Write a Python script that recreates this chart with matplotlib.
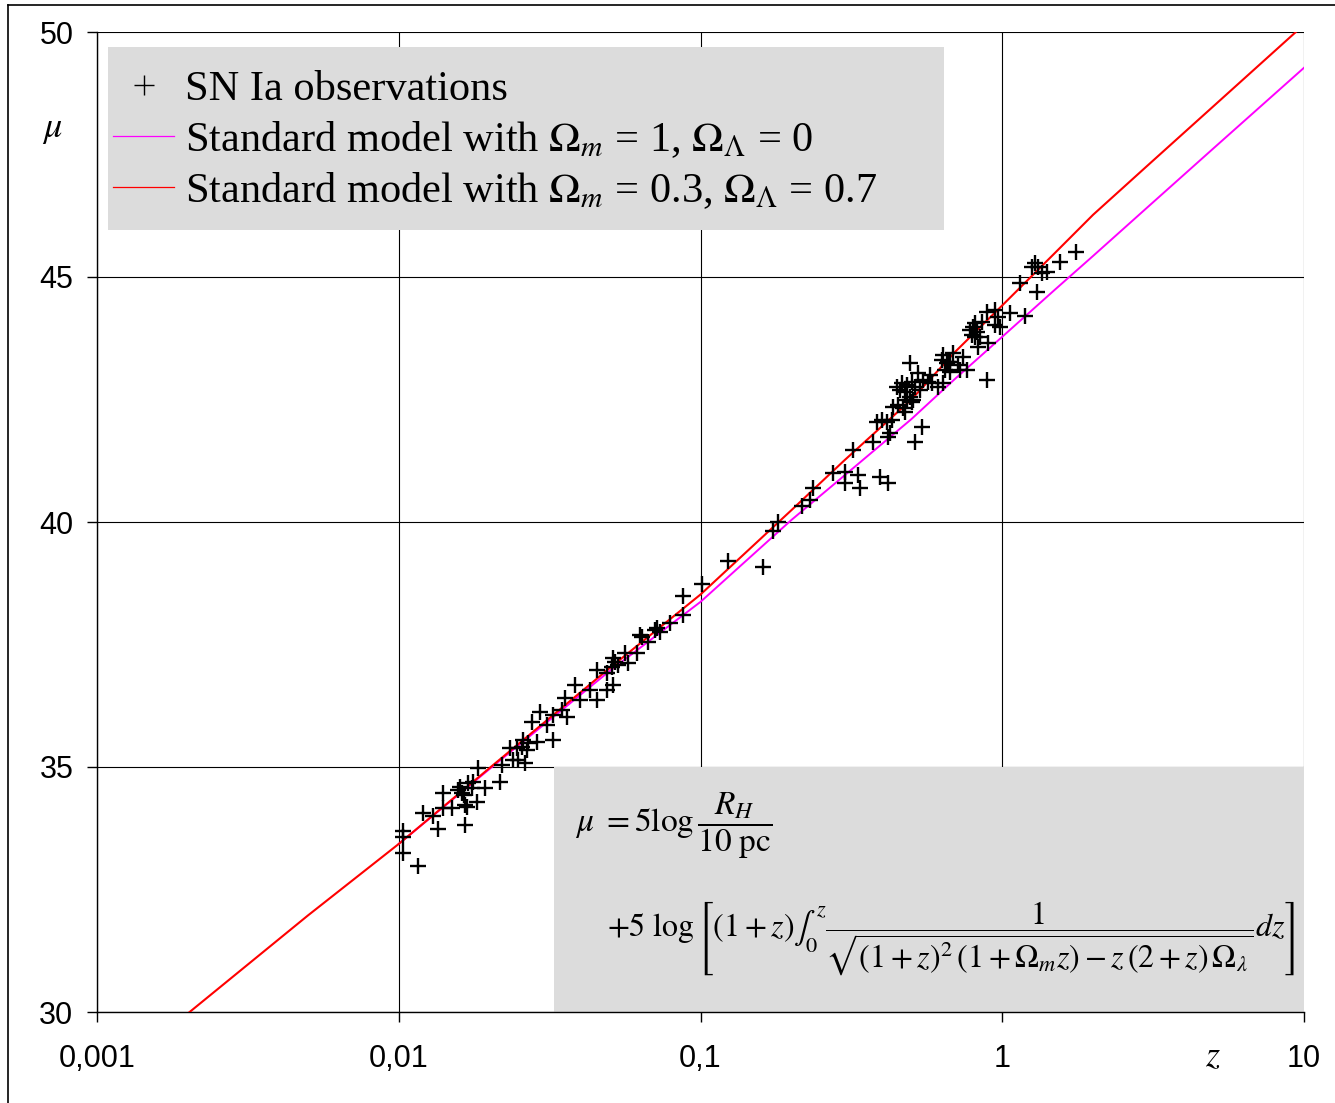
import matplotlib
matplotlib.use("Agg")
import matplotlib.pyplot as plt
from matplotlib.lines import Line2D
from matplotlib.patches import Rectangle

# SN Ia observations (redshift, distance modulus)
z_obs = [0.0103, 0.0103, 0.0103, 0.0116, 0.0120, 0.0130, 0.0135, 0.0140, 0.0140, 0.0150,
         0.0157, 0.0162, 0.0160, 0.0165, 0.0170, 0.0176, 0.0175, 0.0168, 0.0166, 0.0182,
         0.0166, 0.0193, 0.0183, 0.0217, 0.0220, 0.0234, 0.0239, 0.0249, 0.0262, 0.0247,
         0.0256, 0.0266, 0.0268, 0.0287, 0.0259, 0.0276, 0.0294, 0.0310, 0.0325, 0.0325,
         0.0348, 0.0361, 0.0356, 0.0384, 0.0399, 0.0430, 0.0454, 0.0454, 0.0490, 0.0513,
         0.0490, 0.0509, 0.0521, 0.0513, 0.0533, 0.0562, 0.0575, 0.0616, 0.0630, 0.0670,
         0.0718, 0.0640, 0.0707, 0.0734, 0.0792, 0.0875, 0.0875, 0.1012, 0.1233, 0.1611,
         0.1738, 0.1806, 0.2170, 0.2306, 0.2359, 0.2749, 0.3013, 0.3013, 0.3327, 0.3378,
         0.3934, 0.4182, 0.3202, 0.3729, 0.4182, 0.4246, 0.3845, 0.3994, 0.4150, 0.4312,
         0.4345, 0.4514, 0.4690, 0.4835, 0.5023, 0.4947, 0.4584, 0.4762, 0.4480, 0.4654,
         0.4835, 0.5023, 0.5139, 0.5339, 0.5258, 0.5463, 0.5674, 0.5850, 0.4947, 0.5762,
         0.6124, 0.5420, 0.5139, 0.6313, 0.6560, 0.6711, 0.6461, 0.6711, 0.7134, 0.7244,
         0.7411, 0.6867, 0.6362, 0.5061, 0.4762, 0.6610, 0.7641, 0.6362, 0.8903, 0.7818,
         0.8000, 0.8247, 0.8440, 0.8123, 0.7940, 0.8312, 0.8971, 0.8123, 0.8568, 0.8903,
         0.9463, 0.9681, 0.9463, 0.9829, 1.061, 1.190, 1.145, 1.304, 1.284, 1.255,
         1.314, 1.354, 1.407, 1.554, 1.756]
mu_obs = [33.69, 33.57, 33.24, 32.98, 34.06, 34.00, 33.73, 34.47, 34.16, 34.16,
          34.53, 34.47, 34.59, 34.43, 34.67, 34.69, 34.57, 34.18, 34.22, 34.29,
          33.82, 34.57, 34.98, 34.69, 35.04, 35.39, 35.14, 35.14, 35.08, 35.39,
          35.41, 35.35, 35.49, 35.51, 35.55, 35.92, 36.12, 35.86, 35.55, 36.06,
          36.16, 36.02, 36.41, 36.67, 36.37, 36.57, 36.37, 36.98, 36.57, 36.67,
          36.92, 37.04, 37.14, 37.22, 37.08, 37.33, 37.12, 37.33, 37.69, 37.55,
          37.84, 37.65, 37.80, 37.76, 37.94, 38.10, 38.49, 38.73, 39.20, 39.08,
          39.82, 40.00, 40.33, 40.45, 40.69, 41.00, 41.02, 40.80, 40.96, 40.69,
          40.92, 40.80, 41.47, 41.63, 41.73, 41.82, 42.04, 42.08, 42.04, 42.08,
          42.35, 42.39, 42.33, 42.49, 42.45, 42.55, 42.69, 42.65, 42.76, 42.84,
          42.80, 42.86, 42.76, 42.69, 43.04, 42.90, 42.86, 42.84, 43.24, 43.00,
          42.76, 41.94, 41.63, 43.31, 43.24, 43.27, 43.10, 43.06, 43.20, 43.10,
          43.37, 43.45, 43.41, 42.49, 42.24, 43.27, 43.10, 42.84, 42.90, 43.92,
          43.98, 43.88, 43.78, 43.78, 43.82, 43.57, 43.65, 44.06, 44.08, 44.29,
          44.33, 44.18, 44.02, 43.98, 44.27, 44.20, 44.88, 44.69, 45.29, 45.20,
          45.20, 45.08, 45.10, 45.31, 45.51]

# model curves as drawn in the picture
z_flat = [0.01, 0.02, 0.05, 0.1, 0.2, 0.3, 0.5, 0.7, 1, 1.5, 2, 3, 5, 10]
mu_flat = [33.43, 34.96, 36.96, 38.37, 40.04, 40.95, 42.10, 42.93, 43.78, 44.75,
           45.43, 46.40, 47.62, 49.27]
z_lcdm = [0.002, 0.005, 0.01, 0.02, 0.05, 0.1, 0.2, 0.3, 0.5, 0.7, 1, 1.5, 2, 3, 5, 10]
mu_lcdm = [29.97, 31.97, 33.43, 34.98, 37.02, 38.52, 40.24, 41.26, 42.50, 43.48,
           44.42, 45.50, 46.27, 47.25, 48.48, 50.15]

x_ticks = [0.001, 0.01, 0.1, 1, 10]
x_tick_labels = ["0,001", "0,01", "0,1", "1", "10"]
y_ticks = [30, 35, 40, 45, 50]

plt.rcParams["font.family"] = "Liberation Sans"
plt.rcParams["mathtext.fontset"] = "stix"

fig = plt.figure(figsize=(13.35, 11.03), dpi=100)
ax = fig.add_axes([97 / 1335, 91 / 1103, 1207 / 1335, 980 / 1103])
ax.set_xscale("log")
ax.set_xlim(0.001, 10)
ax.set_ylim(30, 50)

ax.set_xticks(x_ticks)
ax.set_xticklabels(x_tick_labels)
ax.set_yticks(y_ticks)
ax.minorticks_off()
ax.tick_params(axis="both", direction="out", length=7, width=1, labelsize=22, color="black")
ax.tick_params(axis="y", pad=10)
ax.tick_params(axis="x", pad=16)
ax.grid(True, color="black", linewidth=0.8)
ax.set_axisbelow(True)
for s in ["top", "right"]:
    ax.spines[s].set_visible(False)
for s in ["left", "bottom"]:
    ax.spines[s].set_linewidth(1.0)

# grey boxes (legend background and formula)
ax.add_patch(Rectangle((0.0091, 0.798), 0.6926, 0.1867, transform=ax.transAxes,
                       facecolor="#dcdcdc", edgecolor="none", zorder=2))
ax.add_patch(Rectangle((0.0327, 30), 10 - 0.0327, 5, facecolor="#dcdcdc",
                       edgecolor="none", zorder=2))

ax.plot(z_flat, mu_flat, color="#ff00ff", linewidth=1.4, zorder=3)
ax.plot(z_lcdm, mu_lcdm, color="#ff0000", linewidth=1.5, zorder=4)
ax.plot(z_obs, mu_obs, linestyle="none", marker="+", markersize=11,
        markeredgewidth=1.7, color="black", zorder=5)

handles = [
    Line2D([], [], linestyle="none", marker="+", markersize=15, markeredgewidth=1.0, color="black"),
    Line2D([], [], color="#ff00ff", linewidth=0.9),
    Line2D([], [], color="#ff0000", linewidth=0.9),
]
labels = [
    "SN Ia observations",
    r"Standard model with $\Omega_m$ = 1, $\Omega_\Lambda$ = 0",
    r"Standard model with $\Omega_m$ = 0.3, $\Omega_\Lambda$ = 0.7",
]
leg = ax.legend(handles, labels, loc="upper left", bbox_to_anchor=(0.0091, 0.966),
                frameon=False, borderaxespad=0, borderpad=0.12, handlelength=1.45,
                handletextpad=0.25, labelspacing=0.24,
                prop={"family": "Liberation Serif", "size": 30.5})
leg.set_zorder(6)

ax.text(0.396, 0.19, r"$\mu\ = 5\log\dfrac{R_H}{10\ \mathrm{pc}}$", transform=ax.transAxes,
        fontsize=24, ha="left", va="center", zorder=6)
ax.text(0.9925, 0.0745,
        r"$+5\ \log\left[(1+z)\int_0^z\dfrac{1}{\sqrt{(1+z)^2\,(1+\Omega_m z)-z\,(2+z)\,\Omega_\lambda}}dz\right]$",
        transform=ax.transAxes, fontsize=23, ha="right", va="center", zorder=6)

fig.text(52 / 1335, 1 - 128 / 1103, r"$\mu$", fontsize=26, ha="center", va="center")
fig.text(1213 / 1335, 1 - 1057 / 1103, r"$z$", fontsize=26, ha="center", va="center")

# outer frame
fig.add_artist(Line2D([8 / 1335, 8 / 1335], [0, 1 - 5 / 1103], color="black", linewidth=1.2))
fig.add_artist(Line2D([8 / 1335, 1], [1 - 5 / 1103, 1 - 5 / 1103], color="black", linewidth=1.2))

fig.savefig("out.png", dpi=100)
